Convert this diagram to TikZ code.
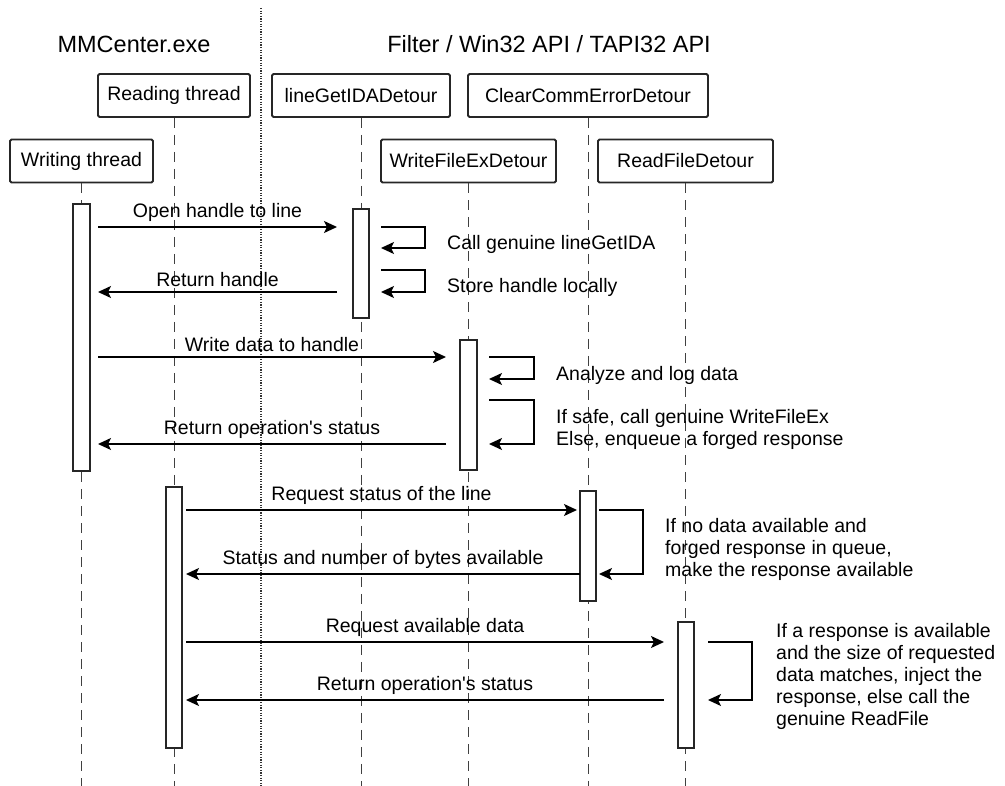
\documentclass[tikz,border=0pt]{standalone}
\usepackage{fontspec}
\setmainfont{Liberation Sans}
\usetikzlibrary{arrows.meta}
\begin{document}
\begin{tikzpicture}[x=1pt,y=-1pt,
  every node/.style={font=\fontsize{19.5}{22}\selectfont},
  actor/.style={draw=black!85,line width=1.8pt,rounded corners=1.5pt,minimum height=43pt,inner sep=0pt,fill=white},
  life/.style={draw=black!75,line width=1pt,dash pattern=on 10pt off 7pt},
  sep/.style={draw=black!80,line width=1.6pt,dash pattern=on 1.3pt off 1.3pt},
  actbar/.style={draw=black!85,line width=1.6pt,fill=white},
  msg/.style={draw=black,line width=1.6pt,-{Stealth[length=13pt,width=12pt,inset=3pt]}},
  lbl/.style={anchor=base,inner sep=0pt},
  note/.style={anchor=base west,inner sep=0pt,align=left}
]
\useasboundingbox (0,0) rectangle (1005,786);
% separator
\draw[sep] (261,8) -- (261,786);
% titles
\node[anchor=base,font=\fontsize{23.5}{26}\selectfont] (t1) at (134,53) {MMCenter.exe};
\node[anchor=base,font=\fontsize{23.5}{26}\selectfont] (t2) at (549,53) {Filter / Win32 API / TAPI32 API};
% actors
\node[actor,minimum width=152pt] (rt) at (174,95.5) {Reading thread};
\node[actor,minimum width=178pt] (lg) at (361,95.5) {lineGetIDADetour};
\node[actor,minimum width=240pt] (cc) at (588,95.5) {ClearCommErrorDetour};
\node[actor,minimum width=143pt] (wt) at (81.5,161) {Writing thread};
\node[actor,minimum width=175pt] (wf) at (468.5,161) {WriteFileExDetour};
\node[actor,minimum width=175pt] (rf) at (685.5,161) {ReadFileDetour};
% lifelines
\coordinate (rtE) at (174,786);
\coordinate (lgE) at (361,786);
\coordinate (ccE) at (588,786);
\coordinate (wtE) at (81.5,786);
\coordinate (wfE) at (468.5,786);
\coordinate (rfE) at (685.5,786);
\draw[life] (rt.south) -- (rtE);
\draw[life] (lg.south) -- (lgE);
\draw[life] (cc.south) -- (ccE);
\draw[life] (wt.south) -- (wtE);
\draw[life] (wf.south) -- (wfE);
\draw[life] (rf.south) -- (rfE);
% activation bars
\draw[actbar] (73,204) rectangle (90,471);
\draw[actbar] (353,209) rectangle (369,318);
\draw[actbar] (460,340) rectangle (477,470);
\draw[actbar] (166,487) rectangle (182,748);
\draw[actbar] (580,491) rectangle (596,601);
\draw[actbar] (678,622) rectangle (694,748);
% lineGetIDA exchange
\coordinate (a1s) at (98,227); \coordinate (a1e) at (337,227);
\draw[msg] (a1s) -- node[lbl,above=5pt]{Open handle to line} (a1e);
\coordinate (l1s) at (381,227); \coordinate (l1e) at (381,248);
\draw[msg] (l1s) -- (425,227) -- (425,248) -- (l1e);
\node[note] (n1) at (447,250) {Call genuine lineGetIDA};
\coordinate (l2s) at (381,270); \coordinate (l2e) at (381,292);
\draw[msg] (l2s) -- (425,270) -- (425,292) -- (l2e);
\node[note] (n2) at (447,293) {Store handle locally};
\coordinate (a2s) at (337,292); \coordinate (a2e) at (98,292);
\draw[msg] (a2s) -- node[lbl,above=5pt]{Return handle} (a2e);
% WriteFileEx exchange
\coordinate (a3s) at (98,357); \coordinate (a3e) at (446,357);
\draw[msg] (a3s) -- node[lbl,above=5pt]{Write data to handle} (a3e);
\coordinate (l3s) at (489,357); \coordinate (l3e) at (489,379);
\draw[msg] (l3s) -- (534,357) -- (534,379) -- (l3e);
\node[note] (n3) at (556,381) {Analyze and log data};
\coordinate (l4s) at (489,400); \coordinate (l4e) at (489,444);
\draw[msg] (l4s) -- (534,400) -- (534,444) -- (l4e);
\node[note] (n4) at (556,446) {If safe, call genuine WriteFileEx\\Else, enqueue a forged response};
\coordinate (a4s) at (446,444); \coordinate (a4e) at (98,444);
\draw[msg] (a4s) -- node[lbl,above=5pt]{Return operation\textquotesingle s status} (a4e);
% ClearCommError exchange
\coordinate (a5s) at (186,510); \coordinate (a5e) at (577,510);
\draw[msg] (a5s) -- node[lbl,above=5pt]{Request status of the line} (a5e);
\coordinate (l5s) at (599,510); \coordinate (l5e) at (599,574);
\draw[msg] (l5s) -- (643,510) -- (643,574) -- (l5e);
\node[note] (n5) at (665,576) {If no data available and\\forged response in queue,\\make the response available};
\coordinate (a6s) at (580,574); \coordinate (a6e) at (186,574);
\draw[msg] (a6s) -- node[lbl,above=5pt]{Status and number of bytes available} (a6e);
% ReadFile exchange
\coordinate (a7s) at (186,642); \coordinate (a7e) at (664,642);
\draw[msg] (a7s) -- node[lbl,above=5pt]{Request available data} (a7e);
\coordinate (l7s) at (708,642); \coordinate (l7e) at (708,700);
\draw[msg] (l7s) -- (752,642) -- (752,700) -- (l7e);
\node[note] (n7) at (776,725) {If a response is available\\and the size of requested\\data matches, inject the\\response, else call the\\genuine ReadFile};
\coordinate (a8s) at (664,700); \coordinate (a8e) at (186,700);
\draw[msg] (a8s) -- node[lbl,above=5pt]{Return operation\textquotesingle s status} (a8e);
\end{tikzpicture}
\end{document}
